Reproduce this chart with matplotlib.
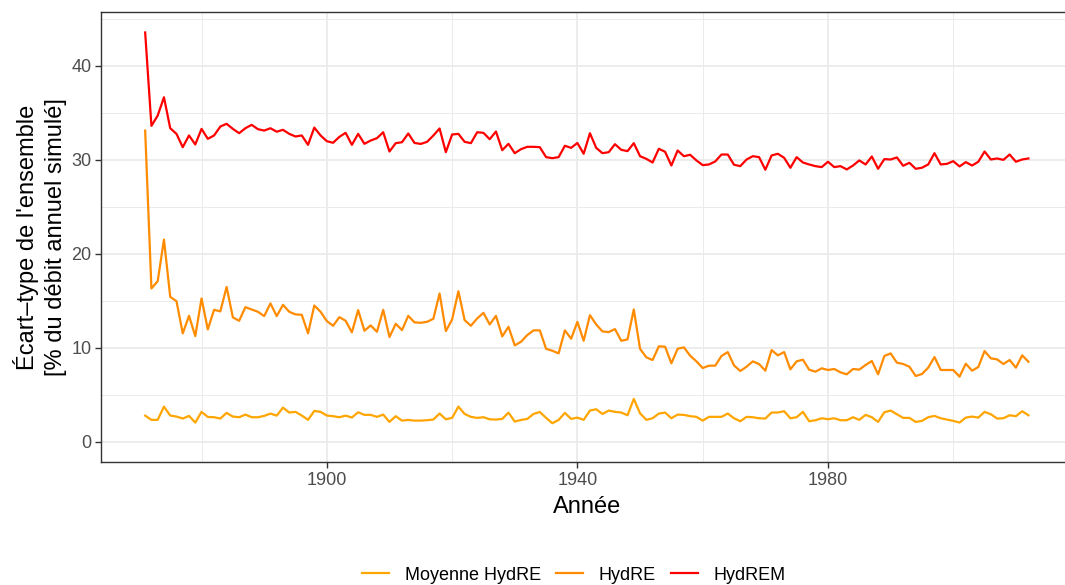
import numpy as np
import matplotlib
matplotlib.use("Agg")
import matplotlib.pyplot as plt
from matplotlib.lines import Line2D
from matplotlib.ticker import MultipleLocator

plt.rcParams['font.family'] = ['Liberation Sans', 'DejaVu Sans']

# Années simulées
annees = np.arange(1871, 2013)

# Écart-type de l'ensemble [% du débit annuel simulé]
hydrem = [
    43.57, 33.62, 34.72, 36.67, 33.37, 32.77, 31.35, 32.6, 31.64, 33.3,
    32.24, 32.6, 33.55, 33.84, 33.3, 32.84, 33.37, 33.73, 33.27, 33.12,
    33.37, 33.0, 33.2, 32.77, 32.49, 32.6, 31.6, 33.44, 32.6, 31.99,
    31.82, 32.45, 32.88, 31.6, 32.77, 31.71, 32.06, 32.31, 32.94, 30.89,
    31.78, 31.88, 32.81, 31.8, 31.7, 31.92, 32.59, 33.34, 30.82, 32.7,
    32.77, 31.92, 31.78, 32.94, 32.88, 32.2, 33.02, 31.03, 31.71, 30.71,
    31.14, 31.39, 31.39, 31.35, 30.29, 30.18, 30.29, 31.5, 31.28, 31.8,
    30.65, 32.84, 31.28, 30.71, 30.82, 31.67, 31.07, 30.93, 31.78, 30.39,
    30.11, 29.72, 31.18, 30.86, 29.4, 31.0, 30.39, 30.54, 29.94, 29.44,
    29.51, 29.83, 30.57, 30.57, 29.48, 29.33, 30.04, 30.39, 30.29, 28.95,
    30.47, 30.65, 30.22, 29.16, 30.29, 29.72, 29.51, 29.33, 29.23, 29.8,
    29.23, 29.33, 28.98, 29.4, 29.94, 29.51, 30.36, 29.05, 30.08, 30.04,
    30.26, 29.37, 29.69, 29.05, 29.16, 29.51, 30.71, 29.51, 29.58, 29.86,
    29.3, 29.76, 29.4, 29.8, 30.89, 30.04, 30.15, 30.0, 30.57, 29.8,
    30.04, 30.15,
]

hydre = [
    33.12, 16.3, 17.08, 21.51, 15.41, 14.95, 11.52, 13.39, 11.23, 15.24,
    11.94, 14.03, 13.86, 16.47, 13.22, 12.86, 14.31, 14.06, 13.82, 13.36,
    14.71, 13.36, 14.56, 13.82, 13.54, 13.5, 11.52, 14.49, 13.82, 12.83,
    12.33, 13.25, 12.86, 11.63, 14.0, 11.8, 12.37, 11.69, 14.03, 11.13,
    12.54, 11.87, 13.39, 12.69, 12.65, 12.75, 13.07, 15.77, 11.76, 13.0,
    16.01, 12.93, 12.33, 13.11, 13.71, 12.47, 13.39, 11.2, 12.22, 10.24,
    10.63, 11.34, 11.84, 11.84, 9.88, 9.67, 9.39, 11.84, 10.95, 12.75,
    10.73, 13.46, 12.47, 11.73, 11.66, 11.98, 10.73, 10.88, 14.07, 9.88,
    8.97, 8.68, 10.14, 10.1, 8.33, 9.88, 10.03, 9.14, 8.54, 7.83,
    8.08, 8.08, 9.11, 9.53, 8.11, 7.51, 7.97, 8.54, 8.25, 7.55,
    9.74, 9.18, 9.53, 7.69, 8.54, 8.72, 7.65, 7.44, 7.8, 7.62,
    7.73, 7.37, 7.16, 7.73, 7.66, 8.15, 8.58, 7.16, 9.11, 9.39,
    8.4, 8.26, 7.97, 6.98, 7.19, 7.87, 9.0, 7.62, 7.62, 7.62,
    6.91, 8.29, 7.55, 7.94, 9.64, 8.86, 8.75, 8.26, 8.68, 7.87,
    9.18, 8.5,
]

moyenne_hydre = [
    2.76, 2.31, 2.31, 3.72, 2.77, 2.66, 2.45, 2.73, 2.02, 3.16,
    2.62, 2.59, 2.45, 3.05, 2.66, 2.59, 2.87, 2.59, 2.59, 2.73,
    2.98, 2.76, 3.61, 3.09, 3.16, 2.77, 2.31, 3.26, 3.16, 2.77,
    2.7, 2.59, 2.76, 2.56, 3.12, 2.84, 2.84, 2.63, 2.87, 2.09,
    2.7, 2.23, 2.3, 2.23, 2.23, 2.27, 2.34, 2.98, 2.37, 2.52,
    3.72, 2.94, 2.63, 2.52, 2.59, 2.37, 2.34, 2.41, 3.08, 2.13,
    2.3, 2.41, 2.94, 3.15, 2.52, 1.95, 2.3, 3.05, 2.41, 2.55,
    2.31, 3.3, 3.44, 2.94, 3.3, 3.16, 3.09, 2.8, 4.54, 3.01,
    2.31, 2.48, 2.98, 3.09, 2.48, 2.87, 2.84, 2.7, 2.63, 2.23,
    2.63, 2.63, 2.63, 2.98, 2.48, 2.16, 2.63, 2.59, 2.48, 2.45,
    3.09, 3.09, 3.23, 2.48, 2.59, 3.16, 2.16, 2.27, 2.48, 2.38,
    2.48, 2.27, 2.27, 2.59, 2.31, 2.84, 2.59, 2.09, 3.12, 3.3,
    2.91, 2.52, 2.52, 2.09, 2.2, 2.59, 2.73, 2.48, 2.34, 2.2,
    2.02, 2.55, 2.66, 2.55, 3.16, 2.91, 2.45, 2.48, 2.8, 2.7,
    3.23, 2.8,
]

series = ['Moyenne HydRE', 'HydRE', 'HydREM']
couleurs = {'Moyenne HydRE': '#FFA500', 'HydRE': '#FF8C00', 'HydREM': '#FF0000'}

W, H = 1065, 585
fig = plt.figure(figsize=(W / 100, H / 100), dpi=100)
# le panneau dépasse un peu à droite (image rognée)
ax = fig.add_axes([101 / W, (H - 462) / H, (1072.6 - 101) / W, (462 - 12) / H])

ax.plot(annees, moyenne_hydre, color=couleurs['Moyenne HydRE'], lw=1.6)
ax.plot(annees, hydre, color=couleurs['HydRE'], lw=1.6)
ax.plot(annees, hydrem, color=couleurs['HydREM'], lw=1.6)

# limites à la ggplot (expansion de 5 %, y inclut 0)
x0, x1 = annees.min(), annees.max()
dx = 0.05 * (x1 - x0)
ax.set_xlim(x0 - dx, x1 + dx)
y0, y1 = 0, max(hydrem)
dy = 0.05 * (y1 - y0)
ax.set_ylim(y0 - dy, y1 + dy)

ax.xaxis.set_major_locator(MultipleLocator(40, offset=20))
ax.xaxis.set_minor_locator(MultipleLocator(20))
ax.yaxis.set_major_locator(MultipleLocator(10))
ax.yaxis.set_minor_locator(MultipleLocator(5))
ax.grid(which='major', color='#EBEBEB', lw=1.3)
ax.grid(which='minor', color='#EBEBEB', lw=0.7)
ax.set_axisbelow(True)

for s in ax.spines.values():
    s.set_color('#333333')
    s.set_linewidth(1.0)
ax.tick_params(which='major', length=4, width=1.0, color='#333333',
               labelsize=13, labelcolor='#4D4D4D', pad=3)
ax.tick_params(which='minor', length=0)

fig.text(587 / W, 1 - 507 / H, 'Année', ha='center', va='center', fontsize=17)
fig.text(40 / W, 1 - 237 / H,
         "Écart–type de l'ensemble\n[% du débit annuel simulé]",
         ha='center', va='center', rotation=90, fontsize=17, linespacing=1.3)

handles = [Line2D([], [], color=couleurs[s], lw=1.6) for s in series]
fig.legend(handles, series, loc='center', bbox_to_anchor=(574 / W, 1 - 575 / H),
           ncol=3, frameon=False, fontsize=13, handlelength=1.5,
           handletextpad=0.85, columnspacing=0.85)

fig.savefig('out.png', dpi=100)
